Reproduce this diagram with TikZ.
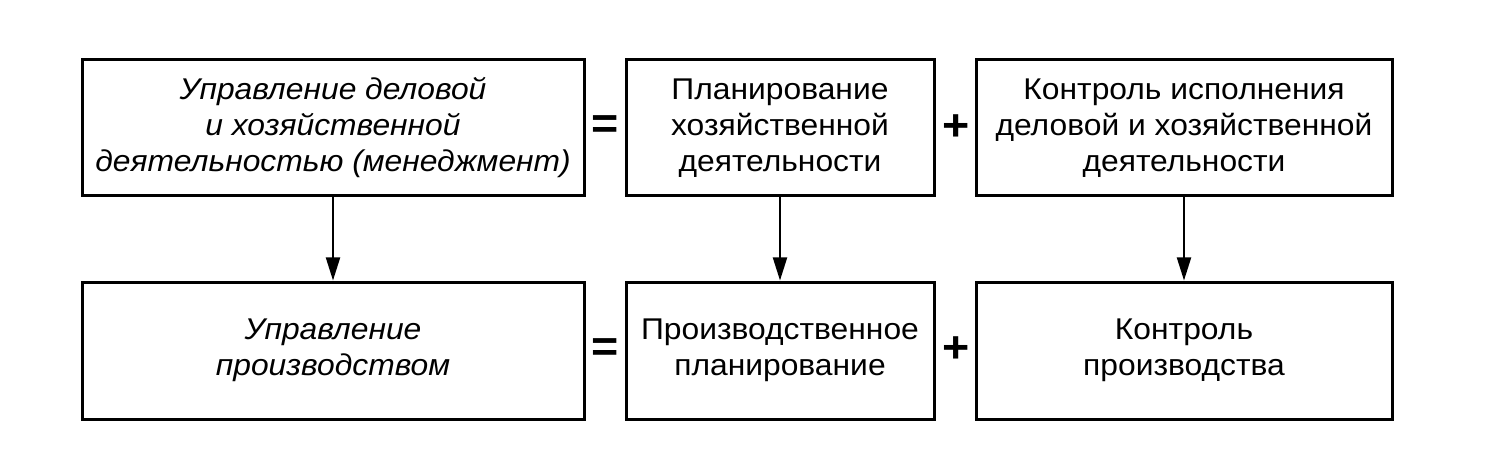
\documentclass[tikz,border=0pt]{standalone}
\usepackage{fontspec}
\setmainfont[FakeStretch=1.06]{Liberation Sans}
\usetikzlibrary{arrows.meta}
\tikzset{
  box/.style={draw, line width=1.5pt, inner sep=0pt, align=center,
    font=\fontsize{15}{18}\selectfont},
  topbox/.style={box, minimum height=68pt},
  botbox/.style={box, minimum height=68.5pt},
  sign/.style={inner sep=0pt, font=\fontsize{22}{22}\selectfont\bfseries},
  flow/.style={line width=1pt, -{Triangle[length=11.5pt, width=7pt]}}
}
\begin{document}
\begin{tikzpicture}[x=0.5pt, y=-0.5pt]
\useasboundingbox (0,0) rectangle (1501,449);
\node[topbox, minimum width=251pt] (tl) at (333,128)
  {\itshape Управление деловой\\\itshape и хозяйственной\\\itshape деятельностью (менеджмент)};
\node[topbox, minimum width=154pt] (tm) at (780,128)
  {Планирование\\хозяйственной\\деятельности};
\node[topbox, minimum width=208pt] (tr) at (1184,128)
  {Контроль исполнения\\деловой и хозяйственной\\деятельности};
\node[botbox, minimum width=251pt] (bl) at (333,350.5)
  {\itshape Управление\\\itshape производством};
\node[botbox, minimum width=154pt] (bm) at (780,350.5)
  {Производственное\\планирование};
\node[botbox, minimum width=208pt] (br) at (1184,350.5)
  {Контроль\\производства};
\node[sign] (eq1) at (605,127) {=};
\node[sign] (pl1) at (956,128) {+};
\node[sign] (eq2) at (605,350) {=};
\node[sign] (pl2) at (956,350) {+};
\draw[flow] (tl) -- (bl);
\draw[flow] (tm) -- (bm);
\draw[flow] (tr) -- (br);
\end{tikzpicture}
\end{document}
